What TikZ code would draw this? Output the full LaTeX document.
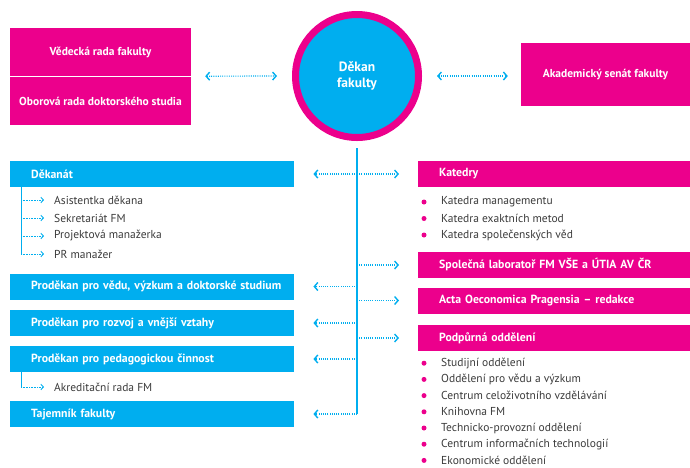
\documentclass[tikz,border=0pt]{standalone}
\usepackage{fontspec}
\setmainfont{PT Sans}
\usetikzlibrary{arrows.meta}
\definecolor{fmpink}{HTML}{EC008C}
\definecolor{fmblue}{HTML}{00AEEF}
\definecolor{fmtext}{HTML}{3A3A3A}
\begin{document}
\begin{tikzpicture}[x=1pt,y=-1pt,font=\fontsize{11.5}{13}\selectfont,
      >={Straight Barb[length=3.5pt,width=8pt,line width=1.4pt]},
      pinkbox/.style={fill=fmpink,text=white,font=\fontsize{11.5}{13}\selectfont\bfseries,inner sep=0pt},
      headbox/.style={inner xsep=21pt,inner ysep=0pt,minimum height=26pt,text width=#1,
        align=left,anchor=west,text=white,font=\fontsize{11.8}{13}\selectfont\bfseries},
      bluebox/.style={headbox=242pt,fill=fmblue},
      redbox/.style={headbox=230pt,fill=fmpink},
      link/.style={draw=fmblue,line width=1.2pt,dash pattern=on 1pt off 1.2pt},
      sublink/.style={draw=fmblue,line width=0.8pt,dash pattern=on 0.8pt off 0.8pt,
        -{Straight Barb[length=2.5pt,width=5.5pt,line width=0.9pt]}},
      item/.style={anchor=west,inner sep=0pt,text=fmtext},
      bullet/.style={circle,fill=fmpink,inner sep=0pt,minimum size=5pt}]
  \useasboundingbox (0,0) rectangle (690,467);

  % top row
  \node[circle,fill=fmblue,draw=fmpink,line width=7pt,minimum size=123pt,text=white,
    font=\fontsize{13.5}{16}\selectfont\bfseries,align=center] (dekan) at (357,76) {Děkan\\fakulty};
  \node[pinkbox,minimum width=181pt,minimum height=48pt] (vrf) at (100.5,52) {Vědecká rada fakulty};
  \node[pinkbox,minimum width=181pt,minimum height=48pt] (ords) at (100.5,101) {Oborová rada doktorského studia};
  \node[pinkbox,minimum width=169pt,minimum height=63pt] (senat) at (605.5,74.5) {Akademický senát fakulty};
  \draw[link,<->,shorten <=14pt,shorten >=15pt] (vrf.south east) -- (dekan.west);
  \draw[link,<->,shorten <=15pt,shorten >=13pt] (dekan.east) -- (dekan.east -| senat.west);

  % spine
  \coordinate (top) at (357,148);
  \coordinate (bot) at (357,414);
  \draw[fmblue,line width=2pt] (top) -- (bot);

  % left column
  \node[bluebox] (dekanat) at (10,174) {Děkanát};
  \node[bluebox] (veda) at (10,286.5) {\mbox{Proděkan pro vědu, výzkum a doktorské studium}};
  \node[bluebox] (rozvoj) at (10,323) {Proděkan pro rozvoj a vnější vztahy};
  \node[bluebox] (pedag) at (10,359) {Proděkan pro pedagogickou činnost};
  \node[bluebox] (tajemnik) at (10,414) {Tajemník fakulty};
  \foreach \n in {dekanat,veda,rozvoj,pedag,tajemnik}
    \draw[link,->,shorten >=19pt] (\n.east -| top) -- (\n.east);

  \foreach \t [count=\i] in {Asistentka děkana,Sekretariát FM,Projektová manažerka,PR manažer}
    \node[item] (sub\i) at (54,182+18*\i) {\t};
  \coordinate (dbr) at ([xshift=11pt]dekanat.south west);
  \draw[fmblue,line width=1pt] (dbr) -- (dbr |- sub4.west);
  \foreach \i in {1,...,4}
    \draw[sublink,shorten >=10pt] (dbr |- sub\i.west) -- (sub\i.west);

  \node[item] (akred) at (54,387) {Akreditační rada FM};
  \coordinate (pbr) at ([xshift=11pt]pedag.south west);
  \draw[fmblue,line width=1pt] (pbr) -- (pbr |- akred.west);
  \draw[sublink,shorten >=10pt] (pbr |- akred.west) -- (akred.west);

  % right column
  \node[redbox] (katedry) at (418,174) {Katedry};
  \node[redbox] (lab) at (418,265) {Společná laboratoř FM VŠE a ÚTIA AV ČR};
  \node[redbox] (acta) at (418,300.5) {Acta Oeconomica Pragensia -- redakce};
  \node[redbox] (podpora) at (418,338) {Podpůrná oddělení};
  \foreach \n in {katedry,lab,acta,podpora}
    \draw[link,->,shorten >=19pt] (\n.west -| top) -- (\n.west);

  \foreach \t [count=\i] in {Katedra managementu,Katedra exaktních metod,Katedra společenských věd}{
    \node[bullet] (kb\i) at (424,185.5+16.5*\i) {};
    \node[item] (kat\i) at (441,185.5+16.5*\i) {\t};
  }
  \foreach \t [count=\i] in {Studijní oddělení,Oddělení pro vědu a výzkum,Centrum celoživotního vzdělávání,
      Knihovna FM,Technicko-provozní oddělení,Centrum informačních technologií,Ekonomické oddělení}{
    \node[bullet] (pb\i) at (424,347+16.2*\i) {};
    \node[item] (pod\i) at (441,347+16.2*\i) {\t};
  }
\end{tikzpicture}
\end{document}
